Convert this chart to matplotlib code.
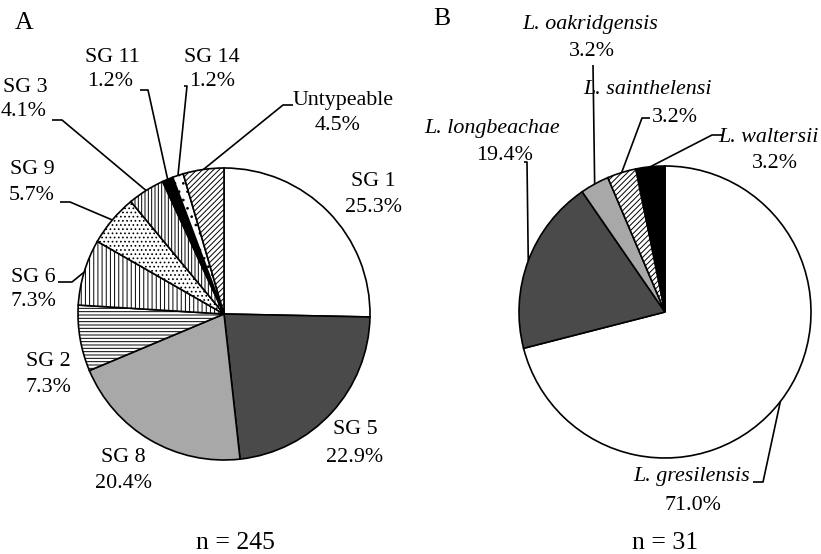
import matplotlib.pyplot as plt
import numpy as np

plt.rcParams["font.family"] = ["Liberation Serif", "DejaVu Serif"]
plt.rcParams["hatch.linewidth"] = 0.7

W, H = 821, 554

# panel A: serogroups of L. pneumophila
SG_LABELS = ["SG 1", "SG 5", "SG 8", "SG 2", "SG 6", "SG 9", "SG 3", "SG 11", "SG 14", "Untypeable"]
SG_PCT = [25.3, 22.9, 20.4, 7.3, 7.3, 5.7, 4.1, 1.2, 1.2, 4.5]
N_A = 245

# panel B: non-pneumophila species
SPECIES = ["L. gresilensis", "L. longbeachae", "L. oakridgensis", "L. sainthelensi", "L. waltersii"]
SPECIES_PCT = [71.0, 19.4, 3.2, 3.2, 3.2]
N_B = 31

A_FILL = ["white", "#4a4a4a", "#a8a8a8", "white", "white", "white", "white", "black", "white", "white"]
A_HATCH = [None, None, None, "-----", "||||", "....", "|||||", None, "..", "//////"]
B_FILL = ["white", "#4a4a4a", "#a8a8a8", "white", "black"]
B_HATCH = [None, None, None, "//////", None]

FS = 15.8

# label layout in image pixels (y down): name xy, pct xy, leader points
A_LAYOUT = [
    ((373, 182), (373, 208), None),
    ((355, 430), (355, 457), None),
    ((123, 458), (123, 483), None),
    ((48, 362), (48, 387), None),
    ((33, 277), (33, 302), [(58, 282), (72, 282)]),
    ((32, 170), (32, 195), [(60, 202), (70, 202)]),
    ((25, 87), (24, 112), [(52, 120), (62, 120)]),
    ((112, 57), (110, 81), [(140, 90), (148, 90)]),
    ((212, 57), (212, 81), [(184, 86), (187, 86)]),
    ((343, 100), (338, 125), [(293, 105), (283, 105)]),
]
B_LAYOUT = [
    ((692, 477), (693, 505), [(753, 482), (763, 482)]),
    ((492, 128), (505, 155), [(524, 162), (527, 162)]),
    ((590, 25), (592, 52), [(593, 65)]),
    ((648, 90), (675, 117), [(650, 118), (642, 118)]),
    ((768, 137), (775, 163), [(722, 135), (712, 135)]),
]


def py(y):
    return H - y


def draw_pie(ax, values, fills, hatches, cx, cy, r):
    wedges, _ = ax.pie(
        values, colors=fills, hatch=hatches, startangle=90, counterclock=False,
        center=(cx, py(cy)), radius=r, normalize=True,
        wedgeprops=dict(edgecolor="black", linewidth=1.2),
    )
    return wedges


def label_pie(ax, wedges, names, pcts, layout, cx, cy, r, italic=False):
    for w, name, pct, (pn, pp, lead) in zip(wedges, names, pcts, layout):
        ax.text(pn[0], py(pn[1]), name, ha="center", va="center", fontsize=FS,
                style="italic" if italic else "normal")
        ax.text(pp[0], py(pp[1]), f"{pct:.1f}%", ha="center", va="center", fontsize=FS)
        if lead:
            mid = np.deg2rad((w.theta1 + w.theta2) / 2)
            ex, ey = cx + r * np.cos(mid), py(cy) + r * np.sin(mid)
            xs = [p[0] for p in lead] + [ex]
            ys = [py(p[1]) for p in lead] + [ey]
            ax.plot(xs, ys, color="black", lw=1.2, solid_capstyle="butt")


fig = plt.figure(figsize=(W / 100, H / 100), dpi=100)
ax = fig.add_axes([0, 0, 1, 1])

wa = draw_pie(ax, SG_PCT, A_FILL, A_HATCH, 224, 314, 146)
wb = draw_pie(ax, SPECIES_PCT, B_FILL, B_HATCH, 665, 312, 146)
label_pie(ax, wa, SG_LABELS, SG_PCT, A_LAYOUT, 224, 314, 146)
label_pie(ax, wb, SPECIES, SPECIES_PCT, B_LAYOUT, 665, 312, 146, italic=True)

ax.text(24, py(23), "A", ha="center", va="center", fontsize=18.5)
ax.text(442, py(19), "B", ha="center", va="center", fontsize=18.5)
ax.text(235, py(543), f"n = {N_A}", ha="center", va="center", fontsize=18.5)
ax.text(665, py(543), f"n = {N_B}", ha="center", va="center", fontsize=18.5)

ax.set_xlim(0, W)
ax.set_ylim(0, H)
ax.set_aspect("equal")
ax.axis("off")

fig.savefig("out.png", dpi=100)
